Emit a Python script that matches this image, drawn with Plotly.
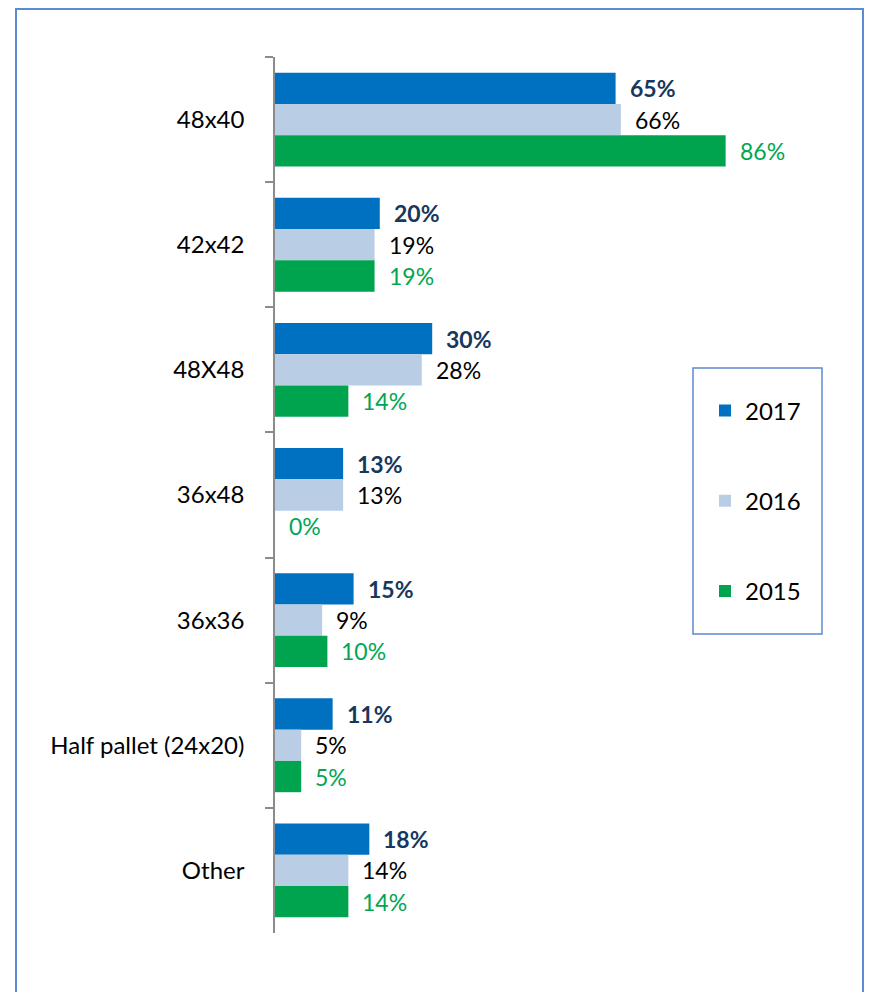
import plotly.graph_objects as go

categories = ["48x40", "42x42", "48X48", "36x48", "36x36", "Half pallet (24x20)", "Other"]
series_names = ["2017", "2016", "2015"]
v2017 = [65, 20, 30, 13, 15, 11, 18]
v2016 = [66, 19, 28, 13, 9, 5, 14]
v2015 = [86, 19, 14, 0, 10, 5, 14]

bar_colors = ["#0070C0", "#B9CDE5", "#00A44F"]
label_colors = ["#17375E", "#000000", "#00A651"]
label_bold = [True, False, False]
FONT = "Lato"

values = [v2017, v2016, v2015]

fig = go.Figure()
for i, (name, vals) in enumerate(zip(series_names, values)):
    fig.add_trace(go.Bar(
        y=categories, x=vals, name=name, orientation="h",
        marker=dict(color=bar_colors[i], line=dict(width=0)),
        legendgroup=name, hoverinfo="skip",
    ))

# page has an 8px body margin: reference pixel p -> figure pixel p - 8
OFF = 8
W, H = 872, 992
L = 275 - OFF
T = 57 - OFF
Rpx = 799 - OFF
Bpx = 933 - OFF
pw, ph = Rpx - L, Bpx - T
band = ph / len(categories)
bargap = 0.25
barh = band * (1 - bargap) / 3
shifts = [barh, 0, -barh]

annotations = []
for i, vals in enumerate(values):
    for c, v in zip(categories, vals):
        txt = f"{v}%"
        if label_bold[i]:
            txt = f"<b>{txt}</b>"
        annotations.append(dict(
            x=v, y=c, xref="x", yref="y", text=txt, showarrow=False,
            xanchor="left", yanchor="middle", xshift=12, yshift=shifts[i],
            font=dict(family=FONT, size=23, color=label_colors[i]),
        ))

def px_x(p):
    return (p - OFF - L) / pw

def px_y(p):
    return (Bpx - (p - OFF)) / ph

shapes = [
    dict(type="rect", xref="paper", yref="paper",
         x0=px_x(16), x1=px_x(863), y0=px_y(1010), y1=(Bpx - 1) / ph,
         line=dict(color="#5B8BD0", width=2), fillcolor="rgba(0,0,0,0)", layer="below"),
    dict(type="rect", xref="paper", yref="paper",
         x0=px_x(693), x1=px_x(822), y0=px_y(634), y1=px_y(368),
         line=dict(color="#5B8BD0", width=1.5), fillcolor="rgba(0,0,0,0)"),
]

fig.update_layout(
    width=W, height=H,
    margin=dict(l=L, r=W - Rpx, t=T, b=H - Bpx, pad=0),
    paper_bgcolor="white", plot_bgcolor="white",
    barmode="group", bargap=bargap, bargroupgap=0,
    font=dict(family=FONT, size=24, color="#000000"),
    showlegend=True,
    legend=dict(
        x=px_x(705), y=px_y(501), xanchor="left", yanchor="middle",
        xref="paper", yref="paper",
        traceorder="grouped", tracegroupgap=56,
        font=dict(family=FONT, size=24, color="#000000"),
        bgcolor="rgba(0,0,0,0)", borderwidth=0,
    ),
    xaxis=dict(range=[0, 100], showticklabels=False, showgrid=False,
               zeroline=False, showline=False, ticks="", fixedrange=True),
    yaxis=dict(type="category", autorange="reversed", showgrid=False,
               zeroline=False, showline=True, linecolor="#8C8C8C", linewidth=1.5,
               ticks="outside", tickson="boundaries", ticklen=8, tickwidth=1.5,
               tickcolor="#8C8C8C", ticklabelstandoff=24,
               tickfont=dict(family=FONT, size=24, color="#000000")),
    annotations=annotations,
    shapes=shapes,
)

fig.write_html("out.html")
